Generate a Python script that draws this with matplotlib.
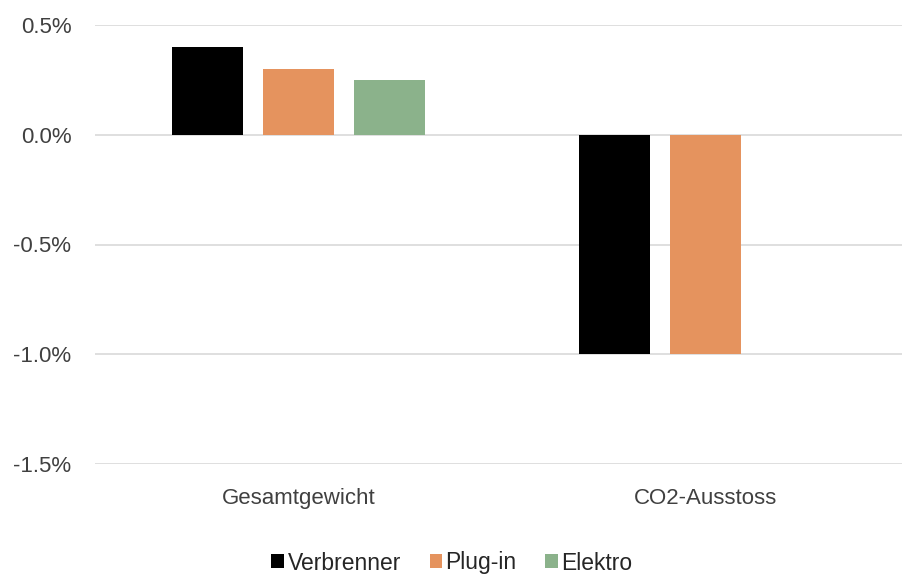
import matplotlib
matplotlib.use("Agg")
import matplotlib.pyplot as plt
from matplotlib.ticker import FuncFormatter
import numpy as np

plt.rcParams["font.family"] = ["Liberation Sans", "DejaVu Sans"]
plt.rcParams["axes.unicode_minus"] = False

categories = ["Gesamtgewicht", "CO2-Ausstoss"]
series_names = ["Verbrenner", "Plug-in", "Elektro"]
verbrenner = [0.40, -1.00]
plug_in = [0.30, -1.00]
elektro = [0.25, 0.0]
y_ticks = [-1.5, -1.0, -0.5, 0.0, 0.5]

colors = ["#000000", "#E5935E", "#8BB28B"]

W, H = 902, 575
fig = plt.figure(figsize=(W / 100, H / 100), dpi=100)
left, right = 95 / W, 909 / W
top, bottom = (H - 25) / H, (H - 464) / H
ax = fig.add_axes([left, bottom, right - left, top - bottom])

x = np.arange(len(categories))
bar_w = 0.1745
step = 0.2236
for i, (name, vals) in enumerate(zip(series_names, [verbrenner, plug_in, elektro])):
    ax.bar(x + (i - 1) * step, vals, width=bar_w, color=colors[i], label=name, zorder=3)

ax.set_xlim(-0.5, len(categories) - 0.5)
ax.set_ylim(min(y_ticks), max(y_ticks))
ax.set_yticks(y_ticks)
ax.yaxis.set_major_formatter(FuncFormatter(lambda v, p: f"{v:.1f}%"))
ax.grid(axis="y", color="#D9D9D9", linewidth=1.2, zorder=0)
for s in ax.spines.values():
    s.set_visible(False)
ax.tick_params(axis="both", length=0, labelsize=16, colors="#404040")
ax.tick_params(axis="y", pad=17)
ax.tick_params(axis="x", pad=17)
ax.set_xticks(x)
ax.set_xticklabels(categories)

leg = fig.legend(loc="center", bbox_to_anchor=(452 / W, (H - 563) / H), ncol=3,
                 frameon=False, fontsize=16.5, handlelength=0.55, handleheight=0.55,
                 handletextpad=0.15, columnspacing=1.25)
for t in leg.get_texts():
    t.set_color("#262626")

fig.savefig("out.png", dpi=100)
